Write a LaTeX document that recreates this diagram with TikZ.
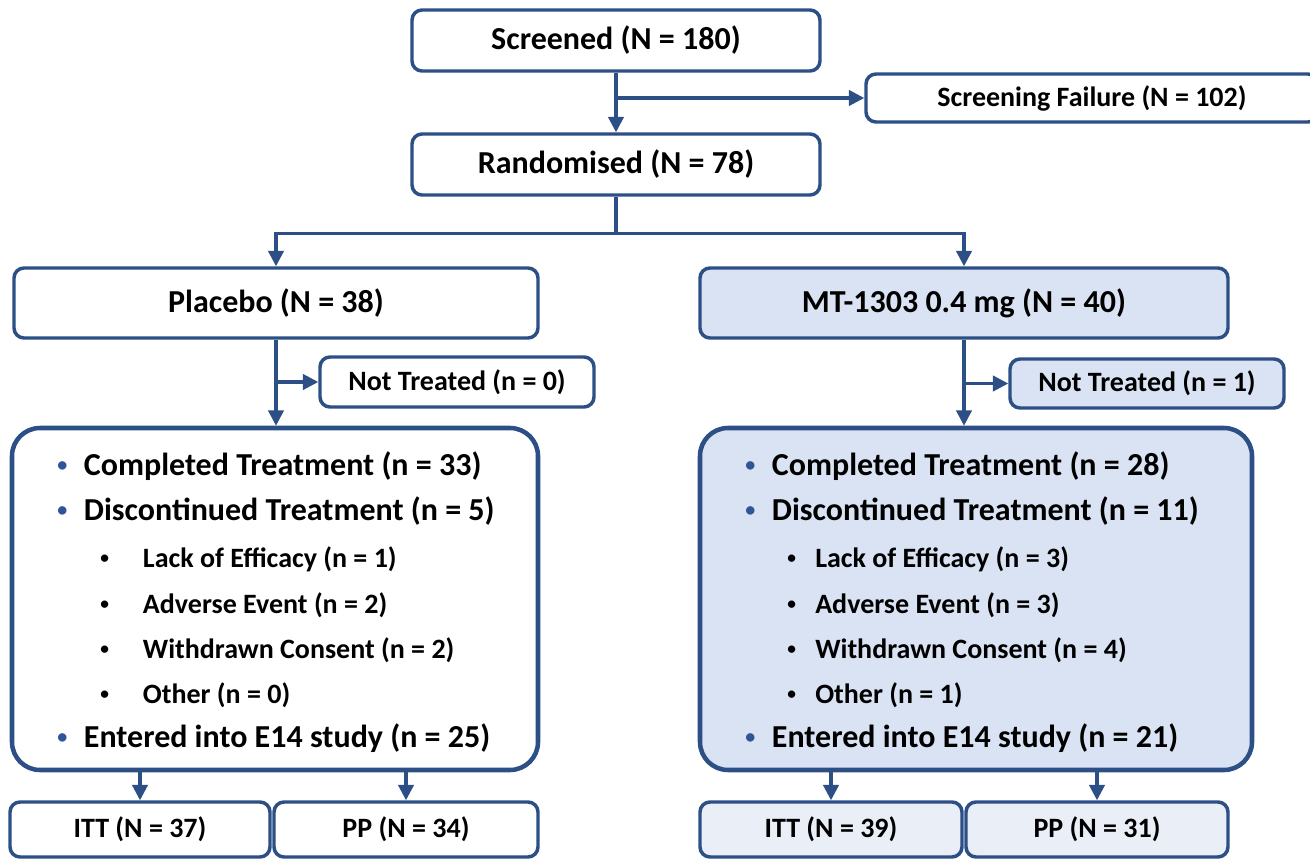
\documentclass[tikz,border=0pt]{standalone}
\usepackage{fontspec}
\setmainfont{Carlito}
\usetikzlibrary{arrows.meta,positioning}

\definecolor{boxblue}{HTML}{2C4F86}
\definecolor{armfill}{HTML}{DAE3F3}
\definecolor{popfill}{HTML}{E9EEF7}
\definecolor{dotblue}{HTML}{2F5597}

\newcommand{\armdot}[1]{\makebox[#1][l]{\textcolor{dotblue}{\fontsize{15}{15}\selectfont\raisebox{2.5pt}{•}}}}
\newcommand{\subdot}[1]{\makebox[#1][l]{\fontsize{13}{13}\selectfont\raisebox{2.5pt}{•}}}

\tikzset{
  stagebox/.style={draw=boxblue, line width=2.6pt, rounded corners=7.5pt, fill=white,
    inner sep=0pt, font=\bfseries\fontsize{24}{28}\selectfont},
  sidebox/.style={stagebox, font=\bfseries\fontsize{21}{25}\selectfont},
  listbox/.style={draw=boxblue, line width=3.4pt, rounded corners=21pt, fill=white},
  flow/.style={draw=boxblue, line width=2.3pt, -{Triangle[length=11.5pt,width=11.5pt]}},
  outeritem/.style={anchor=base west, inner sep=0pt, font=\bfseries\fontsize{24}{28}\selectfont},
  inneritem/.style={anchor=base west, inner sep=0pt, font=\bfseries\fontsize{21}{25}\selectfont},
}

\begin{document}
\begin{tikzpicture}[x=0.75pt,y=-0.75pt]
  \useasboundingbox (0,0) rectangle (1310,859);

  % Screening
  \node[stagebox, minimum width=306pt, minimum height=45.75pt] (screened) at (616,40.5) {Screened (N = 180)};
  \node[sidebox, minimum width=339pt, minimum height=36pt] (failure) at (1092,98) {Screening Failure (N = 102)};
  \node[stagebox, minimum width=306pt, minimum height=45.75pt] (random) at (616,164.5) {Randomised (N = 78)};

  % Arms
  \node[stagebox, minimum width=393pt, minimum height=52.5pt] (placebo) at (276,303) {Placebo (N = 38)};
  \node[stagebox, fill=armfill, minimum width=396pt, minimum height=52.5pt] (drug) at (964,303) {MT-1303 0.4 mg (N = 40)};

  \node[sidebox, minimum width=205.5pt, minimum height=37.5pt] (notL) at (457,382) {Not Treated (n = 0)};
  \node[sidebox, fill=armfill, minimum width=205.5pt, minimum height=36.75pt] (notR) at (1147,383.5) {Not Treated (n = 1)};

  % Disposition lists
  \node[listbox, minimum width=394.5pt, minimum height=256.5pt] (listL) at (275,599) {};
  \node[listbox, fill=armfill, minimum width=414pt, minimum height=256.5pt] (listR) at (976,599) {};

  \node[outeritem] (cmpL) at (57,475) {\armdot{20pt}Completed Treatment (n = 33)};
  \node[outeritem] (dscL) at (57,520) {\armdot{20pt}Discontinued Treatment (n = 5)};
  \node[inneritem] (lackL) at (100,567) {\subdot{32pt}Lack of Efficacy (n = 1)};
  \node[inneritem] (aeL) at (100,613) {\subdot{32pt}Adverse Event (n = 2)};
  \node[inneritem] (wcL) at (100,658) {\subdot{32pt}Withdrawn Consent (n = 2)};
  \node[inneritem] (othL) at (100,703) {\subdot{32pt}Other (n = 0)};
  \node[outeritem] (e14L) at (57,747) {\armdot{20pt}Entered into E14 study (n = 25)};

  \node[outeritem] (cmpR) at (745,475) {\armdot{20pt}Completed Treatment (n = 28)};
  \node[outeritem] (dscR) at (745,520) {\armdot{20pt}Discontinued Treatment (n = 11)};
  \node[inneritem] (lackR) at (787,567) {\subdot{21pt}Lack of Efficacy (n = 3)};
  \node[inneritem] (aeR) at (787,613) {\subdot{21pt}Adverse Event (n = 3)};
  \node[inneritem] (wcR) at (787,658) {\subdot{21pt}Withdrawn Consent (n = 4)};
  \node[inneritem] (othR) at (787,703) {\subdot{21pt}Other (n = 1)};
  \node[outeritem] (e14R) at (745,747) {\armdot{20pt}Entered into E14 study (n = 21)};

  % Analysis sets
  \node[sidebox, minimum width=195pt, minimum height=41.25pt] (ittL) at (140,829.5) {ITT (N = 37)};
  \node[sidebox, minimum width=198pt, minimum height=41.25pt] (ppL) at (406,829.5) {PP (N = 34)};
  \node[sidebox, fill=popfill, minimum width=196.5pt, minimum height=41.25pt] (ittR) at (831,829.5) {ITT (N = 39)};
  \node[sidebox, fill=popfill, minimum width=196.5pt, minimum height=41.25pt] (ppR) at (1097,829.5) {PP (N = 31)};

  % Connectors
  \draw[flow] (screened) -- (random);
  \draw[flow] (screened.south |- failure.west) -- (failure.west);
  \draw[flow] (random.south) -- ++(0,37) -| (placebo.north);
  \draw[flow] (random.south) -- ++(0,37) -| (drug.north);
  \draw[flow] (placebo) -- (placebo.south |- listL.north);
  \draw[flow] (placebo.south |- notL.west) -- (notL.west);
  \draw[flow] (drug) -- (drug.south |- listR.north);
  \draw[flow] (drug.south |- notR.west) -- (notR.west);
  \draw[flow] (ittL.north |- listL.south) -- (ittL.north);
  \draw[flow] (ppL.north |- listL.south) -- (ppL.north);
  \draw[flow] (ittR.north |- listR.south) -- (ittR.north);
  \draw[flow] (ppR.north |- listR.south) -- (ppR.north);
\end{tikzpicture}
\end{document}
